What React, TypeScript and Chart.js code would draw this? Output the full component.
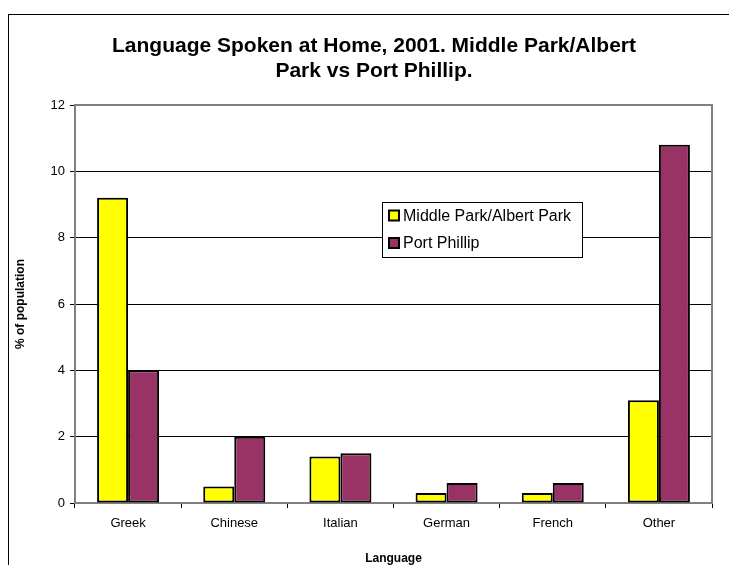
import React, { useEffect, useRef } from "react";
import { Chart, registerables } from "chart.js";

Chart.register(...registerables);

const categories = ["Greek", "Chinese", "Italian", "German", "French", "Other"];
const middleParkValues = [9.2, 0.5, 1.4, 0.3, 0.3, 3.1];
const portPhillipValues = [4.0, 2.0, 1.5, 0.6, 0.6, 10.8];
const seriesLabels = ["Middle Park/Albert Park", "Port Phillip"];
const titleLines = ["Language Spoken at Home, 2001. Middle Park/Albert", "Park vs Port Phillip."];
const yAxisTitle = "% of population";
const xAxisTitle = "Language";
const yMin = 0;
const yMax = 12;
const yStep = 2;

const FONT = "'Liberation Sans', Arial, sans-serif";

const framePlugin = {
  id: "frame",
  beforeDraw(chart: any) {
    const ctx = chart.ctx;
    ctx.save();
    ctx.strokeStyle = "#000";
    ctx.lineWidth = 1;
    ctx.strokeRect(8.5, 14.5, 740, 600);
    ctx.fillStyle = "#000";
    ctx.font = `bold 21px ${FONT}`;
    ctx.textAlign = "center";
    ctx.textBaseline = "alphabetic";
    ctx.fillText(titleLines[0], 374, 52);
    ctx.fillText(titleLines[1], 374, 77);
    ctx.restore();
  },
  beforeDatasetsDraw(chart: any) {
    const { ctx, chartArea } = chart;
    ctx.save();
    ctx.strokeStyle = "#808080";
    ctx.lineWidth = 2;
    ctx.beginPath();
    ctx.moveTo(chartArea.left, chartArea.top);
    ctx.lineTo(chartArea.right, chartArea.top);
    ctx.lineTo(chartArea.right, chartArea.bottom);
    ctx.stroke();
    ctx.restore();
  },
};

const legendPlugin = {
  id: "boxLegend",
  afterDraw(chart: any) {
    const ctx = chart.ctx;
    const x = 382, y = 202, w = 200, h = 55;
    ctx.save();
    ctx.fillStyle = "#fff";
    ctx.fillRect(x, y, w, h);
    ctx.strokeStyle = "#000";
    ctx.lineWidth = 1;
    ctx.strokeRect(x + 0.5, y + 0.5, w, h);
    ctx.font = `16px ${FONT}`;
    ctx.textAlign = "left";
    ctx.textBaseline = "middle";
    chart.data.datasets.forEach((ds: any, i: number) => {
      const cy = 215.5 + i * 27.5;
      ctx.fillStyle = ds.backgroundColor;
      ctx.fillRect(389, cy - 5, 10, 10);
      ctx.strokeStyle = "#000";
      ctx.lineWidth = 2;
      ctx.strokeRect(389, cy - 5, 10, 10);
      ctx.fillStyle = "#000";
      ctx.fillText(ds.label, 403, cy + 1);
    });
    ctx.restore();
  },
};

export default function App() {
  const ref = useRef<HTMLCanvasElement>(null);
  useEffect(() => {
    if (!ref.current) return;
    const chart = new Chart(ref.current, {
      type: "bar",
      data: {
        labels: categories,
        datasets: [
          {
            label: seriesLabels[0],
            data: middleParkValues,
            backgroundColor: "#FFFF00",
            borderColor: "#000",
            borderWidth: 2,
            borderSkipped: false,
          },
          {
            label: seriesLabels[1],
            data: portPhillipValues,
            backgroundColor: "#993366",
            borderColor: "#000",
            borderWidth: 2,
            borderSkipped: false,
          },
        ],
      },
      plugins: [framePlugin, legendPlugin],
      options: {
        responsive: false,
        animation: false,
        devicePixelRatio: 1,
        layout: { padding: { left: 0, right: 17, top: 105, bottom: 0 } },
        plugins: {
          legend: { display: false },
          title: { display: false },
          tooltip: { enabled: false },
        },
        datasets: {
          bar: { categoryPercentage: 0.584, barPercentage: 1.0 },
        },
        scales: {
          x: {
            afterFit(scale: any) {
              scale.height = 62;
            },
            grid: {
              drawOnChartArea: false,
              drawTicks: true,
              tickLength: 5,
              color: "#000",
              offset: true,
            },
            border: { display: true, color: "#808080", width: 2 },
            ticks: {
              color: "#000",
              font: { family: FONT, size: 13 },
              padding: 8,
              maxRotation: 0,
            },
            title: {
              display: true,
              text: xAxisTitle,
              color: "#000",
              font: { family: FONT, size: 12, weight: "bold", lineHeight: 1 },
              padding: { top: 0, bottom: 0 },
            },
          },
          y: {
            min: yMin,
            max: yMax,
            afterFit(scale: any) {
              scale.width = 75;
            },
            grid: {
              color: (c: any) => (c.tick && c.tick.value === yMax ? "#808080" : "#000"),
              tickColor: "#000",
              lineWidth: 1,
              tickLength: 5,
            },
            border: { display: true, color: "#808080", width: 2 },
            ticks: {
              stepSize: yStep,
              color: "#000",
              font: { family: FONT, size: 13 },
              padding: 5,
            },
            title: {
              display: true,
              text: yAxisTitle,
              color: "#000",
              font: { family: FONT, size: 12, weight: "bold" },
              padding: { top: 13, bottom: 0 },
            },
          },
        },
      },
    });
    return () => chart.destroy();
  }, []);
  return (
    <div style={{ position: "fixed", left: 0, top: 0, width: 729, height: 565, background: "#fff" }}>
      <canvas ref={ref} width={729} height={565} style={{ width: 729, height: 565, display: "block" }} />
    </div>
  );
}
